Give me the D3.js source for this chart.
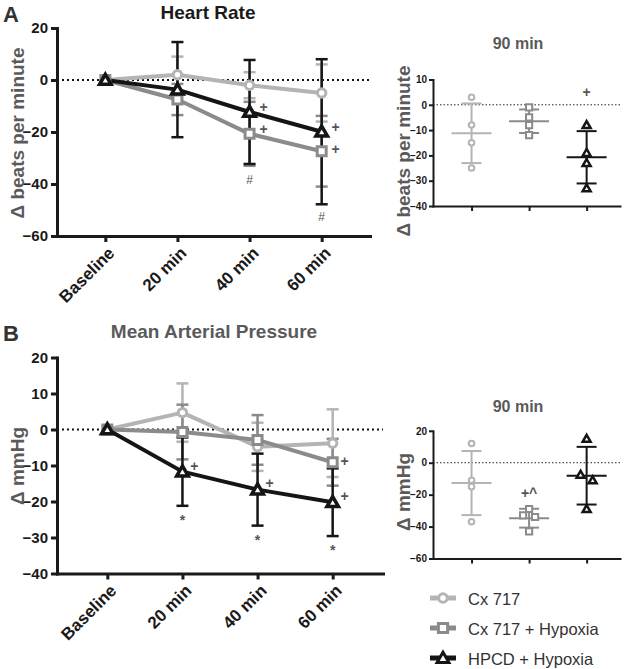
<!DOCTYPE html>
<html><head><meta charset="utf-8">
<script src="https://cdn.jsdelivr.net/npm/d3@7"></script>
<style>body{margin:0;background:#fff}</style>
</head><body>
<script>
// ---------- DATA ----------
const categories = ["Baseline", "20 min", "40 min", "60 min"];
const seriesNames = ["Cx 717", "Cx 717 + Hypoxia", "HPCD + Hypoxia"];
const hrTicks = [20, 0, -20, -40, -60];
const mapTicks = [20, 10, 0, -10, -20, -30, -40];
const hrInsetTicks = [10, 0, -10, -20, -30, -40];
const mapInsetTicks = [20, 0, -20, -40, -60];

// Heart rate (mean, SD) over time
const hrCx717 = [0, 2, -2, -5];
const hrCx717Err = [0, 7, 5, 11];
const hrCxHyp = [0, -7.5, -20.7, -27.4];
const hrCxHypErr = [0, 6, 12.3, 13.6];
const hrHpcd = [0, -3.7, -12.3, -19.9];
const hrHpcdErr = [0, 18.3, 20, 27.9];

// Mean arterial pressure (mean, SD) over time
const mapCx717 = [0, 4.7, -4.8, -3.8];
const mapCx717Err = [0, 8.1, 6.7, 9.4];
const mapCxHyp = [0, -0.7, -2.9, -9.1];
const mapCxHypErr = [0, 7.6, 6.9, 6.5];
const mapHpcd = [0, -11.7, -16.7, -20.2];
const mapHpcdErr = [0, 9.5, 10, 9.4];

// 90 min individual values
const hr90Cx717 = [3, -8, -15, -25];
const hr90CxHyp = [-1, -5, -8, -12];
const hr90Hpcd = [-8, -19, -23, -33];
const map90Cx717 = [12, -11, -15, -37];
const map90CxHyp = [-29, -33, -34, -43];
const map90Hpcd = [15, -7.5, -11, -29];

// significance marks: [category index, value level, symbol]
const hrMarks = [[2, -10.4, "+"], [2, -18.7, "+"], [3, -18.3, "+"], [3, -26.5, "+"], [2, -38.5, "#"], [3, -52.6, "#"]];
const mapMarks = [[1, -10.1, "+"], [2, -14.8, "+"], [3, -8.75, "+"], [3, -18.5, "+"], [1, -24.2, "*"], [2, -29.8, "*"], [3, -32.6, "*"]];
const hr90Marks = [[2, 5, "+"]];
const map90Marks = [[1, -19, "+^"]];

// ---------- STYLE ----------
const colors = ["#b4b4b4", "#8b8b8b", "#151515"];
const shapes = [d3.symbolCircle, d3.symbolSquare, d3.symbolTriangle];
const FONT = "'Liberation Sans', Arial, Helvetica, sans-serif";
const LABEL_GREY = "#5a5a5a";

const svg = d3.select("body").append("svg")
  .attr("width", 625).attr("height", 669)
  .style("font-family", FONT);

function markSize(k, scale) {
  const s = [Math.PI * 4.2 * 4.2, 9 * 9, Math.sqrt(3) / 4 * 11.5 * 11.5][k];
  return s * scale;
}

function styleAxis(g, w, fs) {
  g.select(".domain").attr("stroke", "#1a1a1a").attr("stroke-width", w).attr("stroke-linecap", "square");
  g.selectAll(".tick line").attr("stroke", "#1a1a1a").attr("stroke-width", w);
  g.selectAll(".tick text").attr("fill", "#1a1a1a").style("font-family", FONT)
    .style("font-weight", "bold").style("font-size", fs + "px");
}

function markText(g, x, y, t, fs, dx) {
  const off = t === "*" ? 0.6 * fs : 0.35 * fs;
  g.append("text").attr("x", x + dx).attr("y", y + off)
    .attr("text-anchor", "middle").attr("fill", "#555")
    .style("font-size", fs + "px").style("font-weight", t === "#" ? "normal" : "bold")
    .text(t);
}

// ---------- MAIN PANEL ----------
function mainPanel(cfg) {
  const x = d3.scaleLinear().domain([-0.67, 3.67]).range(cfg.xr);
  const y = d3.scaleLinear().domain([cfg.ticks[cfg.ticks.length - 1], cfg.ticks[0]]).range(cfg.yr);
  const g = svg.append("g");

  g.append("line").attr("x1", cfg.xr[0]).attr("x2", cfg.xr[1]).attr("y1", y(0)).attr("y2", y(0))
    .attr("stroke", "#111").attr("stroke-width", 2).attr("stroke-dasharray", "2,3");

  cfg.series.forEach((s, k) => {
    s.vals.forEach((v, i) => {
      const e = s.errs[i];
      if (!e) return;
      const eg = g.append("g").attr("stroke", colors[k]).attr("stroke-width", 2.5);
      eg.append("line").attr("x1", x(i)).attr("x2", x(i)).attr("y1", y(v + e)).attr("y2", y(v - e));
      eg.append("line").attr("x1", x(i) - 6).attr("x2", x(i) + 6).attr("y1", y(v + e)).attr("y2", y(v + e));
      eg.append("line").attr("x1", x(i) - 6).attr("x2", x(i) + 6).attr("y1", y(v - e)).attr("y2", y(v - e));
    });
  });
  const line = d3.line().x((d, i) => x(i)).y(d => y(d));
  cfg.series.forEach((s, k) => {
    g.append("path").datum(s.vals).attr("d", line).attr("fill", "none")
      .attr("stroke", colors[k]).attr("stroke-width", 4).attr("stroke-linejoin", "round");
  });
  cfg.series.forEach((s, k) => {
    g.selectAll(null).data(s.vals).enter().append("path")
      .attr("transform", (d, i) => `translate(${x(i)},${y(d) + (k === 2 ? 1 : 0)})`)
      .attr("d", d3.symbol().type(shapes[k]).size(markSize(k, 1)))
      .attr("fill", "#fff").attr("stroke", colors[k]).attr("stroke-width", k === 2 ? 3.5 : 3)
      .attr("stroke-linejoin", "miter");
  });

  const ya = g.append("g").attr("transform", `translate(${cfg.xr[0]},0)`)
    .call(d3.axisLeft(y).tickValues(cfg.ticks).tickSize(6).tickSizeOuter(0).tickPadding(3));
  styleAxis(ya, 3, 15);
  const xa = g.append("g").attr("transform", `translate(0,${cfg.yr[0]})`)
    .call(d3.axisBottom(x).tickValues(d3.range(categories.length)).tickSize(6).tickSizeOuter(0).tickFormat(""));
  styleAxis(xa, 3, 15);
  categories.forEach((c, i) => {
    g.append("text")
      .attr("transform", `translate(${x(i) + 6},${cfg.yr[0] + 14}) rotate(-45)`)
      .attr("text-anchor", "end").attr("dy", "0.35em")
      .style("font-size", "17px").style("font-weight", "bold").attr("fill", "#1a1a1a")
      .text(c);
  });

  cfg.marks.forEach(([i, v, t]) => {
    const fs = t === "#" ? 12 : 14;
    markText(g, x(i), y(v), t, fs, t === "+" ? cfg.plusDx : 0);
  });

  g.append("text").attr("x", cfg.titleX).attr("y", cfg.titleY).attr("text-anchor", "middle")
    .style("font-size", "19px").style("font-weight", "bold").attr("fill", cfg.titleColor).text(cfg.title);
  g.append("text").attr("x", 3).attr("y", cfg.titleY + 3)
    .style("font-size", "22px").style("font-weight", "bold").attr("fill", "#333").text(cfg.letter);
  g.append("text").attr("transform", `translate(24,${cfg.labelY}) rotate(-90)`).attr("text-anchor", "middle")
    .style("font-size", "19px").style("font-weight", "bold").attr("fill", LABEL_GREY).text(cfg.ylabel);
}

// ---------- INSET PANEL ----------
function insetPanel(cfg) {
  const x = d3.scaleLinear().domain([-0.67, 2.58]).range([433, 620]);
  const y = d3.scaleLinear().domain([cfg.ticks[cfg.ticks.length - 1], cfg.ticks[0]]).range(cfg.yr);
  const g = svg.append("g");

  g.append("line").attr("x1", 433).attr("x2", 620).attr("y1", y(0)).attr("y2", y(0))
    .attr("stroke", "#222").attr("stroke-width", 1).attr("stroke-dasharray", "1.5,2");

  cfg.series.forEach((vals, k) => {
    const cx = x(k);
    const m = d3.mean(vals), sd = d3.deviation(vals);
    const eg = g.append("g").attr("stroke", colors[k]).attr("stroke-width", 2);
    eg.append("line").attr("x1", cx).attr("x2", cx).attr("y1", y(m + sd)).attr("y2", y(m - sd));
    eg.append("line").attr("x1", cx - 20).attr("x2", cx + 20).attr("y1", y(m)).attr("y2", y(m));
    eg.append("line").attr("x1", cx - 10).attr("x2", cx + 10).attr("y1", y(m + sd)).attr("y2", y(m + sd));
    eg.append("line").attr("x1", cx - 10).attr("x2", cx + 10).attr("y1", y(m - sd)).attr("y2", y(m - sd));

    const order = vals.map((v, i) => i).sort((a, b) => vals[b] - vals[a]);
    const offs = new Array(vals.length).fill(0);
    let grp = [order[0]];
    const flush = () => {
      if (grp.length > 1) grp.forEach((idx, j) => offs[idx] = (j - (grp.length - 1) / 2) * 12);
    };
    for (let j = 1; j < order.length; j++) {
      if (Math.abs(y(vals[order[j]]) - y(vals[order[j - 1]])) < 6) grp.push(order[j]);
      else { flush(); grp = [order[j]]; }
    }
    flush();

    g.selectAll(null).data(vals).enter().append("path")
      .attr("transform", (d, i) => `translate(${cx + offs[i]},${y(d) + (k === 2 ? 0.7 : 0)})`)
      .attr("d", d3.symbol().type(shapes[k]).size([Math.PI * 2.8 * 2.8, 6.2 * 6.2, Math.sqrt(3) / 4 * 8 * 8][k]))
      .attr("fill", "#fff").attr("stroke", colors[k]).attr("stroke-width", k === 2 ? 2.5 : 2);
  });

  const ya = g.append("g").attr("transform", "translate(433,0)")
    .call(d3.axisLeft(y).tickValues(cfg.ticks).tickSize(4).tickSizeOuter(0).tickPadding(2));
  styleAxis(ya, 2, 10);
  const xa = g.append("g").attr("transform", `translate(0,${cfg.yr[0]})`)
    .call(d3.axisBottom(x).tickValues([0, 1, 2]).tickSize(5).tickSizeOuter(0).tickFormat(""));
  styleAxis(xa, 2, 10);

  cfg.marks.forEach(([i, v, t]) => {
    g.append("text").attr("x", x(i)).attr("y", y(v) + 5).attr("text-anchor", "middle")
      .attr("fill", "#555").style("font-size", "14px").style("font-weight", "bold").text(t);
  });

  g.append("text").attr("x", 518).attr("y", cfg.titleY).attr("text-anchor", "middle")
    .style("font-size", "16px").style("font-weight", "bold").attr("fill", LABEL_GREY).text("90 min");
  g.append("text").attr("transform", `translate(410,${cfg.labelY}) rotate(-90)`).attr("text-anchor", "middle")
    .style("font-size", "19px").style("font-weight", "bold").attr("fill", LABEL_GREY).text(cfg.ylabel);
}

mainPanel({
  xr: [57, 370], yr: [236, 28], ticks: hrTicks,
  series: [{vals: hrCx717, errs: hrCx717Err}, {vals: hrCxHyp, errs: hrCxHypErr}, {vals: hrHpcd, errs: hrHpcdErr}],
  marks: hrMarks, plusDx: 14,
  title: "Heart Rate", titleX: 208, titleY: 19, titleColor: "#1a1a1a", letter: "A",
  ylabel: "\u0394 beats per minute", labelY: 133
});
mainPanel({
  xr: [57, 383], yr: [573.5, 357.5], ticks: mapTicks,
  series: [{vals: mapCx717, errs: mapCx717Err}, {vals: mapCxHyp, errs: mapCxHypErr}, {vals: mapHpcd, errs: mapHpcdErr}],
  marks: mapMarks, plusDx: 12,
  title: "Mean Arterial Pressure", titleX: 214, titleY: 338, titleColor: LABEL_GREY, letter: "B",
  ylabel: "\u0394 mmHg", labelY: 466
});
insetPanel({
  yr: [206, 79.5], ticks: hrInsetTicks, series: [hr90Cx717, hr90CxHyp, hr90Hpcd],
  marks: hr90Marks, titleY: 49, ylabel: "\u0394 beats per minute", labelY: 151
});
insetPanel({
  yr: [558.5, 430.8], ticks: mapInsetTicks, series: [map90Cx717, map90CxHyp, map90Hpcd],
  marks: map90Marks, titleY: 412, ylabel: "\u0394 mmHg", labelY: 492
});

// ---------- LEGEND ----------
const legY = [598, 628, 658];
seriesNames.forEach((name, k) => {
  const lg = svg.append("g").attr("transform", `translate(0,${legY[k]})`);
  lg.append("line").attr("x1", 430).attr("x2", 456).attr("y1", 0).attr("y2", 0)
    .attr("stroke", colors[k]).attr("stroke-width", 5);
  lg.append("path").attr("transform", `translate(443,${k === 2 ? 1 : 0})`)
    .attr("d", d3.symbol().type(shapes[k]).size(markSize(k, 1.05)))
    .attr("fill", "#fff").attr("stroke", colors[k]).attr("stroke-width", 3);
  lg.append("text").attr("x", 468).attr("y", 7).style("font-size", "16.5px")
    .attr("fill", "#333").text(name);
});
</script>
</body></html>
